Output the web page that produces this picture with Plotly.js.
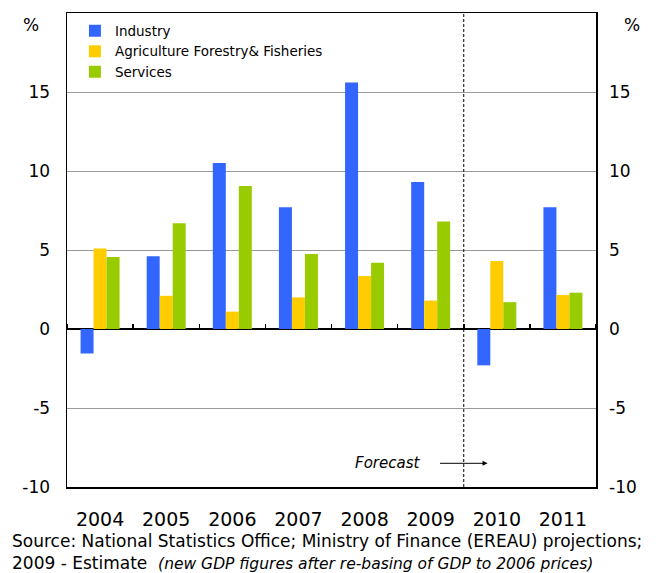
<!DOCTYPE html>
<html><head><meta charset="utf-8">
<script src="https://cdn.plot.ly/plotly-3.0.1.min.js"></script>
<style>body{margin:0;background:#fff}#c{width:665px;height:573px}</style>
</head><body><div id="c"></div>
<script>
const years = ['2004','2005','2006','2007','2008','2009','2010','2011'];
const industry = [-1.55, 4.6, 10.5, 7.7, 15.6, 9.3, -2.3, 7.7];
const agriculture = [5.1, 2.1, 1.1, 2.0, 3.35, 1.8, 4.3, 2.15];
const services = [4.55, 6.7, 9.05, 4.75, 4.2, 6.8, 1.7, 2.3];
const yTicks = [-10, -5, 0, 5, 10, 15];

const F = 'DejaVu Sans, sans-serif';
const traces = [
  {type:'scatter', x:years, y:years.map(()=>0), mode:'markers', marker:{opacity:0}, showlegend:false, hoverinfo:'skip'},
  {type:'bar', name:'Industry', x:years, y:industry, xaxis:'x2', marker:{color:'#3366FF'}},
  {type:'bar', name:'Agriculture Forestry& Fisheries', x:years, y:agriculture, xaxis:'x2', marker:{color:'#FFCC00'}},
  {type:'bar', name:'Services', x:years, y:services, xaxis:'x2', marker:{color:'#99CC00'}},
  {type:'scatter', x:years, y:years.map(()=>0), yaxis:'y2', mode:'markers', marker:{opacity:0}, showlegend:false, hoverinfo:'skip'}
];
const layout = {
  width:665, height:573,
  margin:{l:67, r:69, t:13, b:86},
  paper_bgcolor:'#fff', plot_bgcolor:'rgba(0,0,0,0)',
  barmode:'group', bargap:0.41, bargroupgap:0,
  font:{family:F, color:'#000'},
  showlegend:true,
  legend:{x:0.015, y:0.995, xanchor:'left', yanchor:'top', font:{size:13.5, family:F}, bgcolor:'rgba(0,0,0,0)', tracegroupgap:0, itemwidth:30},
  xaxis:{type:'category', range:[-0.5,7.5], showline:true, linecolor:'#000', mirror:true, linewidth:1.5, ticks:'', tickfont:{size:19, family:F}, showgrid:false, zeroline:false, ticklabelstandoff:15},
  xaxis2:{type:'category', range:[-0.5,7.5], domain:[0,1], anchor:'free', position:1/3, side:'top', ticks:'outside', ticklen:5, tickwidth:1.5, tickcolor:'#000', tickson:'boundaries', showticklabels:false, showline:false, showgrid:false, zeroline:false},
  yaxis:{range:[-10,20], tickvals:yTicks, ticktext:yTicks.map(String), showline:true, linecolor:'#000', linewidth:1.5, mirror:true,
    showgrid:true, gridcolor:'#999', gridwidth:1, zeroline:true, zerolinecolor:'#000', zerolinewidth:1.5,
    ticks:'', tickfont:{size:17, family:F}, ticklabelstandoff:12},
  yaxis2:{overlaying:'y', side:'right', range:[-10,20], tickvals:yTicks, ticktext:yTicks.map(String), showgrid:false, zeroline:false,
    showline:false, ticks:'', tickfont:{size:17, family:F}, ticklabelstandoff:12},
  shapes:[
    {type:'line', xref:'x', yref:'paper', x0:5.5, x1:5.5, y0:0, y1:1, line:{color:'#000', width:1, dash:'3px,2px'}}
  ],
  annotations:[
    {xref:'paper', yref:'paper', x:-0.05, y:1.0, text:'%', showarrow:false, font:{size:17, family:F}, xanchor:'right', yanchor:'top'},
    {xref:'paper', yref:'paper', x:1.05, y:1.0, text:'%', showarrow:false, font:{size:17, family:F}, xanchor:'left', yanchor:'top'},
    {xref:'x', yref:'y', x:4.35, y:-8.5, text:'<i>Forecast</i>', showarrow:false, font:{size:15, family:F}, xanchor:'center'},
    {xref:'x', yref:'y', x:5.86, y:-8.5, ax:-49, ay:0, text:'', showarrow:true, arrowhead:2, arrowsize:1, arrowwidth:1, arrowcolor:'#000'},
    {xref:'paper', yref:'paper', x:-0.108, y:-0.088, text:'Source: National Statistics Office; Ministry of Finance (EREAU) projections;', showarrow:false, font:{size:17, family:F}, xanchor:'left', yanchor:'top'},
    {xref:'paper', yref:'paper', x:-0.108, y:-0.134, text:'2009 - Estimate&nbsp;&nbsp;<i><span style="font-size:15.5px">(new GDP figures after re-basing of GDP to 2006 prices)</span></i>', showarrow:false, font:{size:17, family:F}, xanchor:'left', yanchor:'top'}
  ]
};
Plotly.newPlot('c', traces, layout, {displayModeBar:false, staticPlot:true});
</script></body></html>
